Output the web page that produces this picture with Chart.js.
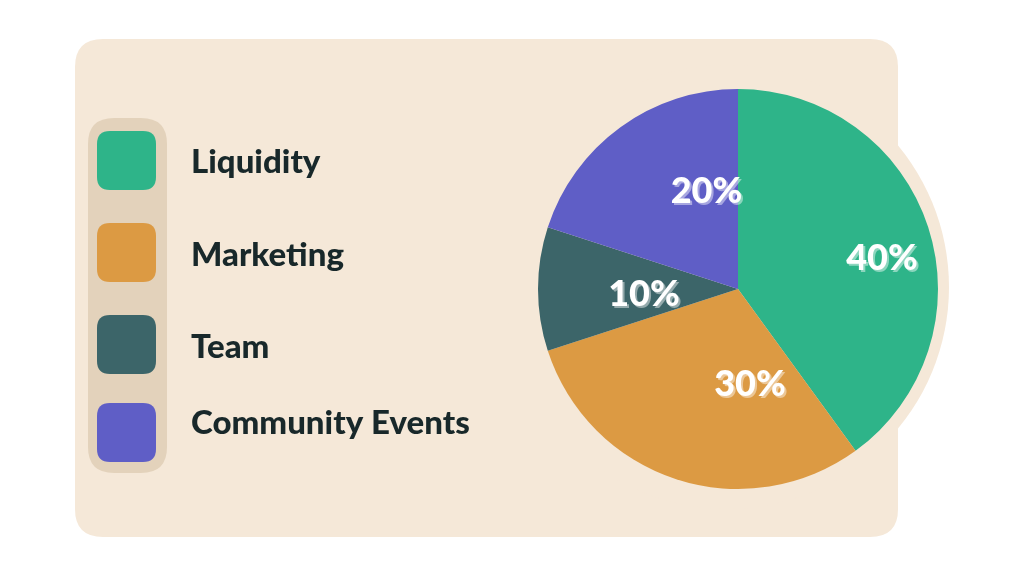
<!DOCTYPE html>
<html>
<head>
<meta charset="utf-8">
<script src="https://cdn.jsdelivr.net/npm/chart.js@4.4.1/dist/chart.umd.min.js"></script>
<style>
  html, body { margin: 0; padding: 0; background: #ffffff; }
  #wrap { width: 1024px; height: 576px; position: relative; }
</style>
</head>
<body>
<div id="wrap"><canvas id="c" width="1024" height="576"></canvas></div>
<script>
// ---- data ----
const categories = ['Liquidity', 'Marketing', 'Team', 'Community Events'];
const shares = [40, 30, 10, 20];
const sliceColors = ['#2eb489', '#dc9a43', '#3c6569', '#5f5ec6'];

// ---- style / layout (not data) ----
const FONT = 'Lato, "Open Sans", sans-serif';
const WEIGHT = '900';
const TEXT_DARK = '#18282a';
const CARD = '#f5e8d8';
const PILL = '#e3d2bb';
// label anchor offsets, in units of the pie radius
const labelOffsets = [[0.72, -0.16], [0.06, 0.468], [-0.47, 0.018], [-0.158, -0.493]];
const swatchTops = [131, 223, 315, 403];
const legendTextCenters = [161, 254, 345.5, 422];

function roundRect(ctx, x, y, w, h, r) {
  ctx.beginPath();
  ctx.moveTo(x + r, y);
  ctx.lineTo(x + w - r, y);
  ctx.quadraticCurveTo(x + w, y, x + w, y + r);
  ctx.lineTo(x + w, y + h - r);
  ctx.quadraticCurveTo(x + w, y + h, x + w - r, y + h);
  ctx.lineTo(x + r, y + h);
  ctx.quadraticCurveTo(x, y + h, x, y + h - r);
  ctx.lineTo(x, y + r);
  ctx.quadraticCurveTo(x, y, x + r, y);
  ctx.closePath();
}

function fitFont(ctx, text, targetW) {
  ctx.font = WEIGHT + ' 30px ' + FONT;
  const w = ctx.measureText(text).width;
  return Math.max(22, Math.min(36, 30 * targetW / w));
}

const backdrop = {
  id: 'backdrop',
  beforeDraw(chart) {
    const ctx = chart.ctx;
    ctx.save();
    // card
    ctx.fillStyle = CARD;
    roundRect(ctx, 75, 39, 823, 498, 28);
    ctx.fill();
    // halo circle behind the pie
    const arc = chart.getDatasetMeta(0).data[0];
    if (arc) {
      ctx.beginPath();
      ctx.arc(arc.x - 11, arc.y - 2, arc.outerRadius * 1.11, 0, Math.PI * 2);
      ctx.fill();
    }
    // legend pill
    ctx.fillStyle = PILL;
    roundRect(ctx, 88, 118, 79, 355, 26);
    ctx.fill();
    // legend items
    const size = fitFont(ctx, categories[categories.length - 1], 279);
    ctx.font = WEIGHT + ' ' + size + 'px ' + FONT;
    ctx.textBaseline = 'alphabetic';
    ctx.textAlign = 'left';
    const cap = ctx.measureText('T').actualBoundingBoxAscent;
    categories.forEach((name, i) => {
      ctx.fillStyle = sliceColors[i];
      roundRect(ctx, 97, swatchTops[i], 59, 59, 13);
      ctx.fill();
      ctx.fillStyle = TEXT_DARK;
      ctx.fillText(name, 191, legendTextCenters[i] + cap / 2);
    });
    ctx.restore();
  }
};

const sliceLabels = {
  id: 'sliceLabels',
  afterDatasetsDraw(chart) {
    const ctx = chart.ctx;
    const meta = chart.getDatasetMeta(0);
    const total = shares.reduce((a, b) => a + b, 0);
    ctx.save();
    const size = fitFont(ctx, '40%', 76);
    ctx.font = WEIGHT + ' ' + size + 'px ' + FONT;
    ctx.textAlign = 'center';
    ctx.textBaseline = 'alphabetic';
    const cap = ctx.measureText('0').actualBoundingBoxAscent;
    meta.data.forEach((arc, i) => {
      const txt = Math.round(shares[i] / total * 100) + '%';
      const r = arc.outerRadius;
      const x = arc.x + labelOffsets[i][0] * r;
      const y = arc.y + labelOffsets[i][1] * r;
      ctx.shadowColor = 'rgba(255,255,255,0.45)';
      ctx.shadowOffsetX = 2;
      ctx.shadowOffsetY = 2;
      ctx.shadowBlur = 0;
      ctx.fillStyle = '#ffffff';
      ctx.fillText(txt, x, y + cap / 2);
    });
    ctx.restore();
  }
};

new Chart(document.getElementById('c'), {
  type: 'pie',
  data: {
    labels: categories,
    datasets: [{
      data: shares,
      backgroundColor: sliceColors,
      borderWidth: 0
    }]
  },
  options: {
    responsive: false,
    animation: false,
    layout: { padding: { left: 538, right: 86, top: 89, bottom: 87 } },
    plugins: {
      legend: { display: false },
      tooltip: { enabled: false }
    }
  },
  plugins: [backdrop, sliceLabels]
});
</script>
</body>
</html>
